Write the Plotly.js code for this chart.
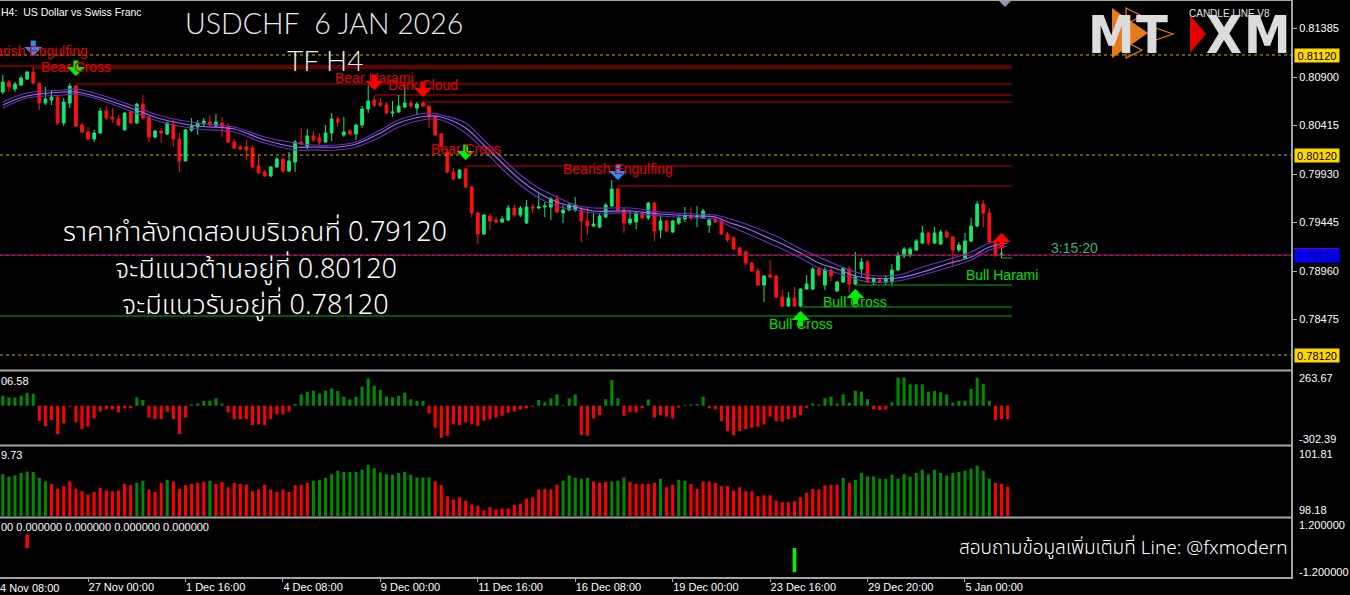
<!DOCTYPE html>
<html><head><meta charset="utf-8">
<script src="https://cdn.plot.ly/plotly-3.0.1.min.js"></script>
<style>html,body{margin:0;padding:0;background:#000;}#chart{width:1350px;height:595px;}</style>
</head><body><div id="chart"></div>
<script>
// ---------- DATA ----------
const openP = [.8075,.8085,.8078,.8082,.8088,.8095,.8084,.8064,.8067,.8070,
.8044,.8064,.8081,.8042,.8035,.8028,.8034,.8056,.8050,.8048,
.8037,.8055,.8044,.8063,.8050,.8030,.8036,.8033,.8043,.8028,
.8006,.8037,.8040,.8043,.8045,.8041,.8044,.8040,.8025,.8020,
.8020,.8019,.8001,.7995,.7991,.8000,.8008,.7996,.8005,.8025,
.8021,.8031,.8029,.8025,.8034,.8048,.8032,.8036,.8033,.8042,
.8058,.8067,.8064,.8062,.8054,.8055,.8060,.8064,.8059,.8064,
.8061,.8050,.8033,.8015,.7995,.7989,.7998,.7980,.7954,.7933,
.7951,.7947,.7945,.7947,.7959,.7952,.7944,.7960,.7959,.7960,
.7960,.7968,.7954,.7957,.7957,.7957,.7946,.7941,.7940,.7950,
.7961,.7978,.7957,.7944,.7945,.7954,.7949,.7964,.7937,.7946,
.7935,.7944,.7948,.7951,.7950,.7949,.7942,.7948,.7946,.7933,
.7929,.7919,.7915,.7904,.7896,.7882,.7892,.7891,.7870,.7861,
.7869,.7861,.7878,.7878,.7898,.7882,.7897,.7876,.7885,.7898,
.7883,.7898,.7905,.7885,.7887,.7885,.7885,.7897,.7911,.7912,
.7917,.7924,.7934,.7924,.7923,.7935,.7930,.7917,.7909,.7926,
.7941,.7963,.7954,.7925,.7912];
const highP = [.8092,.8087,.8085,.8091,.8096,.8100,.8084,.8080,.8077,.8072,
.8069,.8084,.8082,.8044,.8040,.8037,.8059,.8061,.8059,.8052,
.8055,.8056,.8064,.8072,.8052,.8037,.8039,.8045,.8047,.8034,
.8038,.8049,.8047,.8049,.8052,.8053,.8050,.8044,.8028,.8022,
.8027,.8022,.8012,.7997,.8001,.8010,.8010,.8015,.8027,.8039,
.8038,.8036,.8034,.8042,.8054,.8050,.8050,.8038,.8043,.8061,
.8082,.8071,.8069,.8065,.8066,.8072,.8082,.8067,.8065,.8066,
.8061,.8052,.8034,.8017,.7999,.7998,.7999,.7981,.7955,.7953,
.7953,.7950,.7951,.7962,.7962,.7961,.7967,.7963,.7973,.7965,
.7970,.7972,.7962,.7964,.7970,.7960,.7960,.7954,.7953,.7964,
.7987,.7979,.7959,.7957,.7955,.7955,.7965,.7965,.7952,.7947,
.7947,.7952,.7960,.7960,.7961,.7958,.7949,.7952,.7949,.7935,
.7931,.7920,.7917,.7905,.7899,.7892,.7907,.7892,.7877,.7875,
.7880,.7879,.7892,.7900,.7900,.7900,.7899,.7886,.7900,.7901,
.7915,.7909,.7907,.7890,.7889,.7892,.7903,.7915,.7920,.7920,
.7928,.7941,.7935,.7940,.7937,.7937,.7931,.7925,.7934,.7949,
.7966,.7967,.7959,.7927,.7922];
const lowP = [.8073,.8075,.8075,.8081,.8087,.8082,.8057,.8062,.8062,.8042,
.8041,.8059,.8040,.8034,.8027,.8025,.8033,.8047,.8044,.8041,
.8037,.8043,.8043,.8047,.8025,.8029,.8024,.8032,.8020,.7995,
.8006,.8035,.8032,.8040,.8040,.8040,.8030,.8024,.8018,.8017,
.8007,.7999,.7994,.7990,.7990,.7999,.7994,.7995,.7995,.8022,
.8018,.8025,.8022,.8024,.8026,.8040,.8030,.8032,.8027,.8039,
.8054,.8060,.8060,.8053,.8050,.8054,.8059,.8059,.8052,.8060,
.8039,.8031,.8020,.7994,.7987,.7988,.7979,.7950,.7923,.7932,
.7937,.7944,.7944,.7946,.7950,.7950,.7943,.7954,.7958,.7950,
.7947,.7954,.7944,.7956,.7955,.7925,.7932,.7940,.7939,.7949,
.7960,.7956,.7934,.7942,.7938,.7948,.7947,.7926,.7929,.7935,
.7934,.7942,.7945,.7947,.7940,.7948,.7934,.7944,.7932,.7925,
.7917,.7911,.7902,.7895,.7881,.7865,.7889,.7869,.7860,.7860,
.7860,.7860,.7877,.7877,.7891,.7877,.7886,.7875,.7884,.7874,
.7882,.7890,.7884,.7882,.7884,.7882,.7882,.7896,.7909,.7910,
.7916,.7923,.7922,.7923,.7922,.7929,.7900,.7915,.7908,.7925,
.7940,.7940,.7924,.7910,.7909];
const closeP = [.8085,.8080,.8083,.8089,.8095,.8084,.8064,.8068,.8070,.8044,
.8065,.8081,.8041,.8035,.8028,.8034,.8056,.8049,.8048,.8042,
.8054,.8044,.8063,.8049,.8030,.8036,.8034,.8044,.8028,.8006,
.8037,.8041,.8044,.8046,.8042,.8045,.8040,.8025,.8019,.8018,
.8017,.8000,.7994,.7991,.8000,.8008,.7996,.8006,.8025,.8023,
.8031,.8027,.8025,.8034,.8048,.8045,.8035,.8033,.8042,.8058,
.8066,.8062,.8062,.8054,.8055,.8061,.8064,.8061,.8063,.8061,
.8050,.8032,.8021,.7995,.7988,.7997,.7980,.7954,.7933,.7952,
.7946,.7945,.7948,.7959,.7952,.7959,.7960,.7959,.7960,.7961,
.7968,.7955,.7957,.7962,.7962,.7946,.7941,.7943,.7951,.7962,
.7978,.7957,.7944,.7948,.7954,.7949,.7964,.7936,.7946,.7936,
.7946,.7949,.7951,.7949,.7951,.7956,.7947,.7945,.7933,.7927,
.7918,.7912,.7904,.7896,.7882,.7891,.7890,.7870,.7861,.7869,
.7861,.7878,.7883,.7898,.7892,.7897,.7891,.7885,.7899,.7883,
.7890,.7905,.7885,.7888,.7885,.7888,.7897,.7912,.7918,.7918,
.7926,.7934,.7924,.7934,.7935,.7930,.7917,.7922,.7926,.7941,
.7963,.7954,.7925,.7912,.7913];

// moving-average envelope (bar index, upper, middle, lower)
const maIdx = [1,5,11,13,16,22,27,33,39,44,49,52,56,59,63,66,71,73,77,80,83,86,89,92,95,98,104,109,115,118,120,123,126,129,132,135,138,141,143,148,152,156,160,163,166];
const maUp  = [.8065,.8074,.8077,.8078,.8074,.8062,.8051,.8044,.8040,.8030,.8024,.8022,.8022,.8025,.8037,.8047,.8054,.8052,.8044,.8027,.8009,.7992,.7979,.7970,.7962,.7959,.7959,.7955,.7953,.7952,.7949,.7943,.7936,.7928,.7918,.7910,.7902,.7895,.7892,.7892,.7900,.7907,.7915,.7924,.7928];
const maMid = [.8062,.8071,.8075,.8075,.8071,.8059,.8048,.8041,.8038,.8027,.8020,.8020,.8020,.8023,.8034,.8044,.8051,.8050,.8039,.8022,.8004,.7987,.7974,.7965,.7960,.7956,.7956,.7953,.7951,.7950,.7945,.7939,.7931,.7923,.7914,.7904,.7898,.7891,.7889,.7889,.7895,.7903,.7910,.7920,.7924];
const maLow = [.8059,.8069,.8072,.8073,.8069,.8056,.8045,.8038,.8035,.8024,.8017,.8017,.8017,.8020,.8030,.8040,.8048,.8047,.8034,.8017,.7998,.7982,.7969,.7961,.7957,.7954,.7954,.7951,.7949,.7948,.7942,.7934,.7926,.7918,.7909,.7899,.7894,.7888,.7885,.7886,.7892,.7899,.7907,.7917,.7921];

// candle-pattern signals
const sigIdx   = [6, 13, 62, 70, 77, 102, 132, 141, 165];
const sigName  = ['Bearish Engulfing','Bear Cross','Bear Harami','Dark Cloud','Bear Cross','Bearish Engulfing','Bull Cross','Bull Cross','Bull Harami'];
const sigKind  = ['engulf','cross','harami','harami','cross','engulf','cross','cross','harami'];
const sigBull  = [false,false,false,false,false,false,true,true,true];
const sigLevel = [.8099,.8083,.8072,.8065,.8001,.7981,.7860,.7882,.7909];
const sigArrow = [.8111,.8091,.8077,.8070,.8007,.7987,.7856,.7878,.7934];
const extraLevel = [.8101, .7851];
const extraBull  = [false, true];

const srLevels = [0.81120, 0.80120, 0.78120];
const bidPrice = 0.79120;
const priceTicks = [0.81385,0.80900,0.80415,0.79930,0.79445,0.78960,0.78475];

// time axis labels (bar index of each label)
const timeIdx  = [15,31,47,63,79,95,111,127,143,159];
const timeText = ['27 Nov 00:00','1 Dec 16:00','4 Dec 08:00','9 Dec 00:00','11 Dec 16:00','16 Dec 08:00','19 Dec 00:00','23 Dec 16:00','29 Dec 20:00','5 Jan 00:00'];

// oscillator 1 (histogram)
const osc1 = [79,65,65,79,102,92,-118,-160,-113,-223,
-139,-8,-131,-183,-165,-100,-47,-29,-29,-52,
-21,-21,65,45,-92,-105,-105,-47,-105,-223,
-92,10,18,39,39,58,16,-52,-105,-105,
-105,-152,-147,-152,-105,-68,-68,-47,13,89,
110,118,97,118,136,115,71,50,71,149,
215,157,123,71,65,76,102,50,37,37,
-60,-173,-252,-236,-147,-152,-131,-147,-160,-118,
-107,-92,-79,-55,-47,-29,-21,-8,45,26,
58,89,5,58,89,-231,-236,-100,-73,50,
202,58,-79,-52,-52,-21,50,-92,-73,-86,
-100,-15,5,10,13,71,-21,-29,-120,-199,
-231,-199,-183,-173,-165,-147,-86,-120,-126,-105,
-94,-73,-16,18,10,58,71,18,89,24,
118,110,52,-29,-34,-29,26,220,220,168,
168,168,110,115,105,89,24,37,37,131,
220,170,37,-113,-105,-105];

// oscillator 2 (bars with direction)
const osc2 = [100.39,100.27,100.32,100.45,100.53,100.50,100.19,100.01,99.87,99.63,
99.75,100.01,99.63,99.49,99.32,99.46,99.67,99.53,99.49,99.53,
99.89,99.81,99.93,100.05,99.58,99.46,99.93,100.10,100.01,99.63,
99.81,99.87,99.93,99.98,100.05,99.87,99.98,99.70,99.93,99.87,
99.84,99.49,99.58,99.84,99.58,99.46,99.58,99.46,99.81,99.84,
99.93,100.05,100.10,100.19,100.39,100.57,100.50,100.50,100.50,100.62,
100.88,100.70,100.48,100.39,100.36,100.45,100.50,100.36,100.22,100.22,
100.22,100.01,99.81,99.23,99.06,99.18,99.01,98.80,98.72,98.49,
98.66,98.54,98.59,98.59,98.77,98.84,99.11,99.18,99.58,99.63,
99.58,99.84,100.05,100.32,100.19,100.15,100.19,100.01,99.93,99.98,
100.01,100.05,100.22,99.98,99.87,99.87,99.87,99.93,100.15,99.70,
99.84,100.10,100.05,99.87,99.63,100.01,100.01,99.93,99.75,99.75,
99.53,99.70,99.49,99.49,99.23,99.28,99.28,99.01,98.92,98.92,
98.97,99.18,99.41,99.61,99.58,99.79,99.84,99.84,100.19,99.93,
100.10,100.45,100.27,100.27,100.15,100.15,100.36,100.15,100.39,100.27,
100.45,100.62,100.39,100.62,100.45,100.32,100.45,100.50,100.57,100.67,
100.83,100.57,100.15,99.93,99.87,99.72];
const osc2Dir = [1,1,1,1,1,1,1,1,-1,-1,
-1,-1,-1,-1,-1,-1,-1,-1,-1,-1,
-1,-1,1,1,-1,-1,-1,1,-1,-1,
-1,-1,-1,-1,1,-1,-1,-1,-1,-1,
-1,-1,-1,-1,-1,-1,-1,-1,-1,-1,
-1,1,1,1,1,1,1,1,1,1,
1,1,1,1,1,1,1,1,1,1,
1,-1,-1,-1,-1,-1,-1,-1,-1,-1,
-1,-1,-1,-1,-1,-1,-1,-1,-1,-1,
-1,-1,1,1,1,1,1,-1,-1,-1,
1,1,1,-1,-1,-1,-1,-1,1,-1,
-1,1,1,-1,-1,-1,-1,-1,-1,-1,
-1,-1,-1,-1,-1,-1,-1,-1,-1,-1,
-1,-1,-1,-1,-1,-1,-1,-1,1,-1,
1,1,1,1,1,1,1,1,1,1,
1,1,1,1,1,1,1,1,1,1,
1,1,1,-1,-1,-1];

// oscillator 3 (signal spikes)
const osc3Idx = [5, 131];
const osc3Val = [0.55, -1.0];

// ---------- DRAWING ----------
const W = 1350, H = 595;
const PX = x => x / W, PY = y => 1 - y / H;
const plotRight = 1292;
const lineEndIdx = 166.7;

const candleIdx = openP.map((_, i) => i + 1);
const oscIdx = osc1.map((_, i) => i + 1);

const GREEN_C = '#12e86a', RED_C = '#ff1010';
const traces = [];
[[maUp,'#6c2cc4'],[maLow,'#6c2cc4'],[maMid,'#9a70e6']].forEach(([arr,c]) => {
  traces.push({type:'scatter', mode:'lines', x:maIdx, y:arr, xaxis:'x', yaxis:'y',
    line:{color:c, width:1.2, shape:'spline', smoothing:1}, hoverinfo:'skip'});
});
traces.push({type:'candlestick', x:candleIdx, open:openP, high:highP, low:lowP, close:closeP,
  xaxis:'x', yaxis:'y', whiskerwidth:0,
  increasing:{line:{color:GREEN_C, width:1}, fillcolor:GREEN_C},
  decreasing:{line:{color:RED_C, width:1}, fillcolor:RED_C}, hoverinfo:'skip'});
traces.push({type:'bar', x:oscIdx, y:osc1, xaxis:'x', yaxis:'y2', width:0.5,
  marker:{color:osc1.map(v => v >= 0 ? '#008a00' : '#ff0000'), line:{width:0}}, hoverinfo:'skip'});
traces.push({type:'bar', x:oscIdx, y:osc2, xaxis:'x', yaxis:'y3', width:0.5,
  marker:{color:osc2Dir.map(d => d > 0 ? '#008a00' : '#ff0000'), line:{width:0}}, hoverinfo:'skip'});
traces.push({type:'bar', x:osc3Idx, y:osc3Val, xaxis:'x', yaxis:'y4', width:0.6,
  marker:{color:osc3Val.map(v => v > 0 ? '#ff0000' : '#00ee00'), line:{width:0}}, hoverinfo:'skip'});

const shapes = [];
const annotations = [];
const lineRed = '#c80000', lineGreen = '#00b000';

// pattern level lines
sigIdx.forEach((k, i) => {
  shapes.push({type:'line', xref:'x', yref:'y', x0:k, x1:lineEndIdx, y0:sigLevel[i], y1:sigLevel[i],
    line:{color: sigBull[i] ? lineGreen : lineRed, width:1}, layer:'below'});
});
extraLevel.forEach((lv, i) => {
  shapes.push({type:'line', xref:'paper', yref:'y', x0:0, x1:PX(1012), y0:lv, y1:lv,
    line:{color: extraBull[i] ? lineGreen : lineRed, width:1}, layer:'below'});
});
// support / resistance dotted lines
srLevels.forEach(lv => {
  shapes.push({type:'line', xref:'paper', yref:'y', x0:0, x1:PX(plotRight), y0:lv, y1:lv,
    line:{color:'#d4ad00', width:1, dash:'dot'}});
  annotations.push({xref:'paper', yref:'y', x:PX(1294), y:lv, xanchor:'left', yanchor:'middle',
    text:lv.toFixed(5), showarrow:false, bgcolor:'#ffd700', width:44, height:13, borderpad:0,
    font:{family:'Liberation Sans, Arial', size:11, color:'#000'}});
});
// bid line
shapes.push({type:'line', xref:'paper', yref:'y', x0:0, x1:PX(plotRight), y0:bidPrice, y1:bidPrice,
  line:{color:'#ff0000', width:1}});
shapes.push({type:'line', xref:'paper', yref:'y', x0:0, x1:PX(plotRight), y0:bidPrice-0.00005, y1:bidPrice-0.00005,
  line:{color:'#2040ff', width:1, dash:'dot'}});
annotations.push({xref:'paper', yref:'y', x:PX(1294), y:bidPrice, xanchor:'left', yanchor:'middle',
  text:bidPrice.toFixed(5), showarrow:false, bgcolor:'#0000ff', width:44, height:13, borderpad:0,
  font:{family:'Liberation Sans, Arial', size:11, color:'#000080'}});
shapes.push({type:'line', xref:'paper', yref:'paper', x0:PX(1294), x1:PX(1339), y0:PY(249), y1:PY(249),
  line:{color:'#ff0000', width:2}});

// frame & separators
const sepC = '#a4a4a4';
[370.5, 445.5, 517.5, 578].forEach(y => shapes.push({type:'line', xref:'paper', yref:'paper',
  x0:0, x1:PX(plotRight+1), y0:PY(y), y1:PY(y), line:{color:sepC, width:2}}));
shapes.push({type:'line', xref:'paper', yref:'paper', x0:0, x1:PX(plotRight+1), y0:PY(0.5), y1:PY(0.5), line:{color:sepC, width:1}});
shapes.push({type:'line', xref:'paper', yref:'paper', x0:PX(plotRight), x1:PX(plotRight), y0:PY(0), y1:PY(578), line:{color:sepC, width:2}});
// chart shift marker
const pathPx = pts => 'M' + pts.map(p => PX(p[0]) + ',' + PY(p[1])).join(' L') + ' Z';
shapes.push({type:'path', xref:'paper', yref:'paper', path:pathPx([[999,1],[1011,1],[1005,7]]), fillcolor:'#8a96b0', line:{width:0}});

// logo shapes
shapes.push({type:'path', xref:'paper', yref:'paper', path:pathPx([[1112,8],[1148,33],[1112,58]]), fillcolor:'#e87a1e', line:{width:0}});
shapes.push({type:'path', xref:'paper', yref:'paper', path:pathPx([[1126,8],[1142,16],[1126,24]]), fillcolor:'rgba(0,0,0,0)', line:{color:'#e87a1e', width:1.2}});
shapes.push({type:'path', xref:'paper', yref:'paper', path:pathPx([[1126,42],[1142,50],[1126,58]]), fillcolor:'rgba(0,0,0,0)', line:{color:'#e87a1e', width:1.2}});
shapes.push({type:'path', xref:'paper', yref:'paper', path:pathPx([[1150,26],[1173,34],[1150,42]]), fillcolor:'rgba(0,0,0,0)', line:{color:'#e87a1e', width:1.2}});
shapes.push({type:'path', xref:'paper', yref:'paper', path:pathPx([[1190,15],[1206,34],[1190,53]]), fillcolor:'#e00000', line:{width:0}});

// helper for text annotations in pixel positions
function txt(text, x, y, size, color, anchor, family, weight) {
  annotations.push({xref:'paper', yref:'paper', x:PX(x), y:PY(y), xanchor:anchor || 'left', yanchor:'middle',
    text:text, showarrow:false, font:{family:family || 'Liberation Sans, Arial, sans-serif', size:size, color:color, weight:weight || 400}});
}
// signal arrows & labels
const arrowColor = (i) => sigKind[i] === 'engulf' ? '#2a8cff' : (sigKind[i] === 'cross' ? '#00ee00' : '#ff0000');
sigIdx.forEach((k, i) => {
  annotations.push({xref:'x', yref:'y', x:k, y:sigArrow[i], ax:0, ay: sigBull[i] ? 17 : -17,
    showarrow:true, arrowhead:1, arrowsize:0.6, arrowwidth:5, arrowcolor:arrowColor(i), text:''});
  annotations.push({xref:'x', yref:'y', x:k, y:sigLevel[i], yshift: sigBull[i] ? -17 : 17, xanchor:'center', yanchor:'middle',
    text:sigName[i], showarrow:false, font:{family:'Liberation Sans, Arial', size:14, color: sigBull[i] ? '#00e000' : '#e80000'}});
});

// panel labels
const mtF = 'Liberation Sans, Arial, sans-serif';
txt('H4:  US Dollar vs Swiss Franc', -1, 12, 10.5, '#ffffff');
txt('263.67', 1297, 378, 11, '#ffffff');
txt('-302.39', 1297, 439, 11, '#ffffff');
txt('101.81', 1297, 454, 11, '#ffffff');
txt('98.18', 1297, 510, 11, '#ffffff');
txt('1.200000', 1297, 525, 11, '#ffffff');
txt('-1.200000', 1297, 572, 11, '#ffffff');
txt('06.58', -1, 381, 11, '#ffffff');
txt('9.73', -1, 455, 11, '#ffffff');
txt('00 0.000000 0.000000 0.000000 0.000000', -1, 527, 11, '#ffffff');
txt('24 Nov 08:00', -8, 588, 11, '#ffffff');
txt('3:15:20', 1074, 248, 14, '#3cb371', 'center');
txt('CANDLE LINE V8', 1229, 13, 10, '#e0e0e0', 'center');
// logo letters
const logoF = 'Liberation Sans Narrow, DejaVu Sans Condensed, Arial Narrow, sans-serif';
txt('M', 1111, 35, 52, '#dcdcdc', 'center', logoF, 700);
txt('T', 1152, 35, 52, '#dcdcdc', 'center', logoF, 700);
txt('X', 1224, 35, 52, '#dcdcdc', 'center', logoF, 700);
txt('M', 1267, 35, 52, '#dcdcdc', 'center', logoF, 700);
// headline texts
const headF = 'Lato, Noto Sans, sans-serif';
txt('USDCHF  6 JAN 2026', 324, 23, 28.5, '#ececec', 'center', headF, 300);
txt('TF H4', 325, 60, 28, '#ececec', 'center', headF, 300);
const thaiF = 'Noto Sans Thai, Noto Sans, Noto Sans Thai Looped, sans-serif';
txt('ราคากำลังทดสอบบริเวณที่ 0.79120', 255, 233, 27, '#ffffff', 'center', thaiF, 300);
txt('จะมีแนวต้านอยู่ที่ 0.80120', 256, 270, 27, '#ffffff', 'center', thaiF, 300);
txt('จะมีแนวรับอยู่ที่ 0.78120', 255, 306, 27, '#ffffff', 'center', thaiF, 300);
txt('สอบถามข้อมูลเพิ่มเติมที่ Line: @fxmodern', 1290, 548, 19, '#ffffff', 'right', thaiF, 300);

const axBase = {showgrid:false, zeroline:false, showline:false, fixedrange:true};
const layout = {
  width:W, height:H, margin:{l:0, r:0, t:0, b:0},
  paper_bgcolor:'#000', plot_bgcolor:'#000', showlegend:false, hovermode:false,
  font:{family:mtF, color:'#fff'}, boxgap:0.35,
  xaxis: Object.assign({}, axBase, {domain:[0, PX(plotRight)], range:[0.54, 212.7], anchor:'y4',
    rangeslider:{visible:false}, tickvals:timeIdx, ticktext:timeText, ticks:'outside', ticklen:4,
    tickcolor:'#b0b0b0', ticklabelposition:'outside right', tickfont:{family:mtF, size:11, color:'#fff'}}),
  yaxis: Object.assign({}, axBase, {domain:[PY(369), PY(1)], range:[0.7798, 0.8166], side:'right', anchor:'x',
    tickvals:priceTicks, tickformat:'.5f', ticks:'outside', ticklen:4, tickcolor:'#b0b0b0',
    tickfont:{family:mtF, size:11, color:'#fff'}}),
  yaxis2: Object.assign({}, axBase, {domain:[PY(444), PY(372)], range:[-301, 265], side:'right', anchor:'x', showticklabels:false}),
  yaxis3: Object.assign({}, axBase, {domain:[PY(516), PY(447)], range:[98.2, 101.81], side:'right', anchor:'x', showticklabels:false}),
  yaxis4: Object.assign({}, axBase, {domain:[PY(577), PY(519)], range:[-1.2, 1.2], side:'right', anchor:'x', showticklabels:false}),
  shapes:shapes, annotations:annotations
};
Plotly.newPlot('chart', traces, layout, {displayModeBar:false, staticPlot:true});
</script></body></html>
